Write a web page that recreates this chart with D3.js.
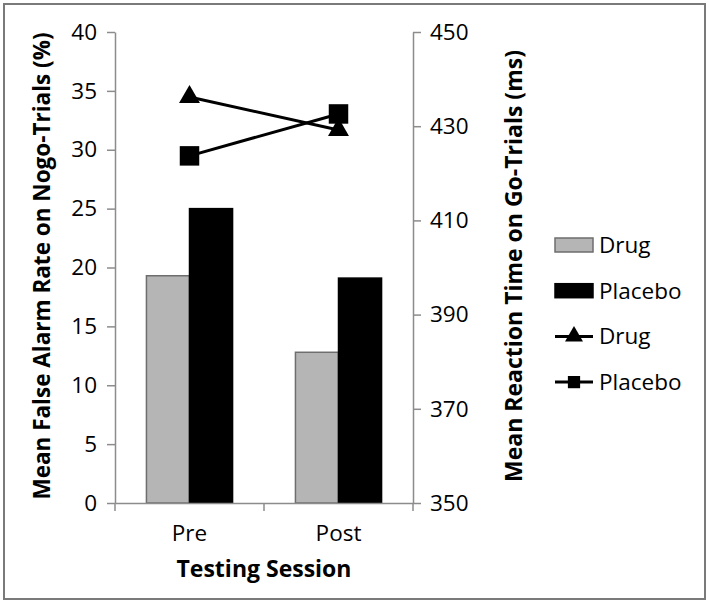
<!DOCTYPE html>
<html lang="en">
  <head>
    <meta charset="UTF-8">
    <script src="https://cdn.jsdelivr.net/npm/d3@7"></script>
    <style>
      body { margin: 0; background: #fff; }
      svg text { font-family: "Open Sans", Lato, sans-serif; fill: #000; }
      .axis path, .axis line { stroke: #8c8c8c; stroke-width: 1.5; }
    </style>
    <title>Drug vs Placebo</title>
  </head>
  <body>
    <script type="text/javascript">
      // Combined bar + line chart, two y axes

      let w = 709;
      let h = 604;

      let categories = ['Pre', 'Post'];
      let groups = ['Drug', 'Placebo'];
      let falseAlarmDrug = [19.3, 12.8];
      let falseAlarmPlacebo = [25.0, 19.1];
      let rtDrug = [436.2, 429.2];
      let rtPlacebo = [423.7, 432.6];
      let leftTicks = [0, 5, 10, 15, 20, 25, 30, 35, 40];
      let rightTicks = [350, 370, 390, 410, 430, 450];

      let x0 = 115, x1 = 413, yTop = 32, yBottom = 503;
      let fs = 22.5;

      let svg = d3.select('body')
                  .append('svg')
                  .attr('width', w)
                  .attr('height', h);

      // outer frame
      svg.append('rect')
          .attr('x', 4).attr('y', 4)
          .attr('width', 701).attr('height', 595)
          .attr('fill', 'none')
          .attr('stroke', '#7a7a7a')
          .attr('stroke-width', 2);

      let xScale = d3.scaleBand()
                      .domain(categories)
                      .range([x0, x1]);

      let xInner = d3.scaleBand()
                      .domain(groups)
                      .range([0, xScale.bandwidth()])
                      .paddingOuter(0.73);

      let yLeft = d3.scaleLinear()
                      .domain([0, 40])
                      .range([yBottom, yTop]);

      let yRight = d3.scaleLinear()
                      .domain([350, 450])
                      .range([yBottom, yTop]);

      // bars
      let barData = [];
      categories.forEach((c, i) => {
        barData.push({ cat: c, group: 'Drug', v: falseAlarmDrug[i] });
        barData.push({ cat: c, group: 'Placebo', v: falseAlarmPlacebo[i] });
      });

      svg.selectAll('rect.bar')
          .data(barData)
          .enter()
          .append('rect')
          .attr('class', 'bar')
          .attr('x', d => xScale(d.cat) + xInner(d.group))
          .attr('y', d => yLeft(d.v))
          .attr('width', xInner.bandwidth())
          .attr('height', d => yBottom - yLeft(d.v))
          .attr('fill', d => d.group === 'Drug' ? '#b5b5b5' : '#000')
          .attr('stroke', d => d.group === 'Drug' ? '#6e6e6e' : '#000')
          .attr('stroke-width', 1.5);

      // axes
      svg.append('g')
          .attr('class', 'axis')
          .attr('transform', `translate(${x0},0)`)
          .call(d3.axisLeft(yLeft).tickValues(leftTicks).tickSize(8).tickSizeOuter(0).tickPadding(10))
          .selectAll('text')
          .attr('font-size', fs);

      svg.append('g')
          .attr('class', 'axis')
          .attr('transform', `translate(${x1},0)`)
          .call(d3.axisRight(yRight).tickValues(rightTicks).tickSize(8).tickSizeOuter(0).tickPadding(9))
          .selectAll('text')
          .attr('font-size', fs);

      let xAxis = svg.append('g')
          .attr('class', 'axis')
          .attr('transform', `translate(0,${yBottom})`)
          .call(d3.axisBottom(xScale).tickSize(0).tickSizeOuter(0).tickPadding(22));
      xAxis.selectAll('text').attr('font-size', fs);

      // category boundary ticks on the x axis
      svg.append('g')
          .selectAll('line')
          .data([x0, xScale('Post'), x1])
          .enter()
          .append('line')
          .attr('x1', d => d).attr('x2', d => d)
          .attr('y1', yBottom).attr('y2', yBottom + 8)
          .attr('stroke', '#8c8c8c')
          .attr('stroke-width', 1.5);

      // lines
      let cx = c => xScale(c) + xScale.bandwidth() / 2;
      let line = d3.line()
                    .x((d, i) => cx(categories[i]))
                    .y(d => yRight(d));

      svg.append('path').datum(rtDrug)
          .attr('d', line).attr('fill', 'none')
          .attr('stroke', '#000').attr('stroke-width', 3);
      svg.append('path').datum(rtPlacebo)
          .attr('d', line).attr('fill', 'none')
          .attr('stroke', '#000').attr('stroke-width', 3);

      let tri = d3.symbol().type(d3.symbolTriangle).size(190);
      let sq = d3.symbol().type(d3.symbolSquare).size(380);

      svg.selectAll('path.tri')
          .data(rtDrug)
          .enter()
          .append('path')
          .attr('class', 'tri')
          .attr('d', tri)
          .attr('transform', (d, i) => `translate(${cx(categories[i])},${yRight(d)})`)
          .attr('fill', '#000');

      svg.selectAll('path.sq')
          .data(rtPlacebo)
          .enter()
          .append('path')
          .attr('class', 'sq')
          .attr('d', sq)
          .attr('transform', (d, i) => `translate(${cx(categories[i])},${yRight(d)})`)
          .attr('fill', '#000');

      // axis titles
      svg.append('text')
          .attr('transform', 'translate(50,266) rotate(-90)')
          .attr('text-anchor', 'middle')
          .attr('font-size', 22.5)
          .attr('font-weight', 'bold')
          .text('Mean False Alarm Rate on Nogo-Trials (%)');

      svg.append('text')
          .attr('transform', 'translate(522,266) rotate(-90)')
          .attr('text-anchor', 'middle')
          .attr('font-size', 23)
          .attr('font-weight', 'bold')
          .text('Mean Reaction Time on Go-Trials (ms)');

      svg.append('text')
          .attr('x', (x0 + x1) / 2)
          .attr('y', 577)
          .attr('text-anchor', 'middle')
          .attr('font-size', 23)
          .attr('font-weight', 'bold')
          .text('Testing Session');

      // legend
      let legendItems = [
        { label: 'Drug', kind: 'bar', fill: '#b5b5b5', stroke: '#6e6e6e' },
        { label: 'Placebo', kind: 'bar', fill: '#000', stroke: '#000' },
        { label: 'Drug', kind: 'line', marker: d3.symbol().type(d3.symbolTriangle).size(140) },
        { label: 'Placebo', kind: 'line', marker: d3.symbol().type(d3.symbolSquare).size(150) }
      ];

      let legend = svg.append('g')
          .selectAll('g')
          .data(legendItems)
          .enter()
          .append('g')
          .attr('transform', (d, i) => `translate(555,${245 + i * 45.7})`);

      legend.filter(d => d.kind === 'bar')
          .append('rect')
          .attr('x', 0).attr('y', -7)
          .attr('width', 38).attr('height', 14)
          .attr('fill', d => d.fill)
          .attr('stroke', d => d.stroke)
          .attr('stroke-width', 1.5);

      let lineItems = legend.filter(d => d.kind === 'line');
      lineItems.append('line')
          .attr('x1', 0).attr('x2', 38)
          .attr('y1', 0).attr('y2', 0)
          .attr('stroke', '#000').attr('stroke-width', 3);
      lineItems.append('path')
          .attr('d', d => d.marker())
          .attr('transform', 'translate(19,0)')
          .attr('fill', '#000');

      legend.append('text')
          .attr('x', 44)
          .attr('y', 8)
          .attr('font-size', fs)
          .text(d => d.label);
    </script>
  </body>
</html>
